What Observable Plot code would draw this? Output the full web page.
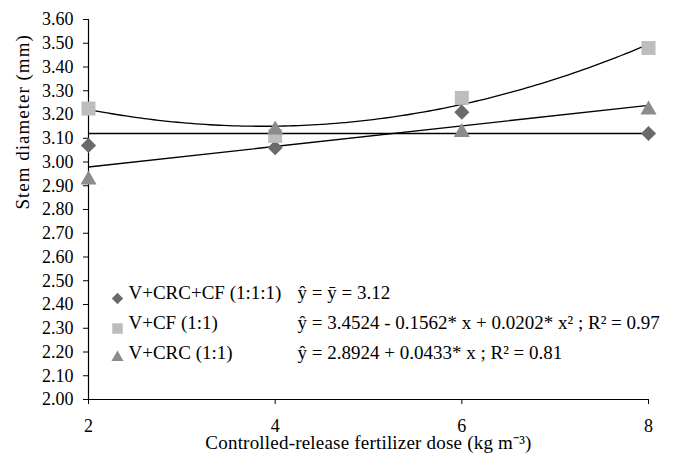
<!DOCTYPE html>
<html>
<head>
<meta charset="utf-8">
<script src="https://cdn.jsdelivr.net/npm/d3@7"></script>
<script src="https://cdn.jsdelivr.net/npm/@observablehq/plot@0.6"></script>
<style>
  html, body { margin: 0; padding: 0; background: #fff; }
  .ylab text { letter-spacing: 1px; }
  .xlab text { letter-spacing: 0.2px; }
</style>
</head>
<body>
<div id="chart"></div>
<script>
// ---- data ----
const doses = [2, 4, 6, 8];
const seriesNames = ["V+CRC+CF (1:1:1)", "V+CF (1:1)", "V+CRC (1:1)"];
const valuesCRCCF = [3.07, 3.06, 3.21, 3.12];
const valuesCF = [3.225, 3.11, 3.27, 3.48];
const valuesCRC = [2.925, 3.135, 3.125, 3.22];
const equations = [
  "ŷ = ȳ = 3.12",
  "ŷ = 3.4524 - 0.1562* x + 0.0202* x² ; R² = 0.97",
  "ŷ = 2.8924 + 0.0433* x ; R² = 0.81"
];
// trend line coefficients as printed in the legend
const meanCRCCF = 3.12;
const coefCF = [3.4524, -0.1562, 0.0202];
const coefCRC = [2.8924, 0.0433];
const yTicks = [2.0, 2.1, 2.2, 2.3, 2.4, 2.5, 2.6, 2.7, 2.8, 2.9, 3.0, 3.1, 3.2, 3.3, 3.4, 3.5, 3.6];
const xTicks = [2, 4, 6, 8];
const yLabel = "Stem diameter (mm)";
const xLabel = "Controlled-release fertilizer dose (kg m⁻³)";

// ---- styles ----
const symbols = ["diamond2", "square", "triangle"];
const colors = ["#6a6a6a", "#bdbdbd", "#8c8c8c"];
const radii = [6.8, 7.9, 6.0];

const seriesVals = [valuesCRCCF, valuesCF, valuesCRC];
const points = seriesVals.map((vals, s) => doses.map((d, i) => ({x: d, y: vals[i], s})));

const xs = d3.range(2, 8.0001, 0.05);
const curveCF = xs.map(x => ({x, y: coefCF[0] + coefCF[1] * x + coefCF[2] * x * x}));
const lineCRC = [2, 8].map(x => ({x, y: coefCRC[0] + coefCRC[1] * x}));
const lineMean = [2, 8].map(x => ({x, y: meanCRCCF}));

const ff = "'Liberation Serif', 'Times New Roman', serif";
const tickFs = 18;
const fs = 19;
const legendDy = [-101, -71, -41];

const marks = [
  Plot.axisY({ticks: yTicks, tickFormat: d3.format(".2f"), tickSize: 5, tickPadding: 10, fontSize: tickFs, label: null, stroke: "#000"}),
  Plot.axisX({ticks: xTicks, tickFormat: d => String(d), tickSize: 5, tickPadding: 15, fontSize: tickFs, label: null, stroke: "#000"}),
  Plot.ruleX([2], {stroke: "#000", strokeWidth: 1.2}),
  Plot.ruleY([2], {stroke: "#000", strokeWidth: 1.2}),
  Plot.line(lineMean, {x: "x", y: "y", stroke: "#000", strokeWidth: 1.3}),
  Plot.line(lineCRC, {x: "x", y: "y", stroke: "#000", strokeWidth: 1.3}),
  Plot.line(curveCF, {x: "x", y: "y", stroke: "#000", strokeWidth: 1.3, curve: "linear"}),
];
points.forEach((pts, s) => {
  marks.push(Plot.dot(pts, {x: "x", y: "y", symbol: () => symbols[s], fill: colors[s], stroke: "none", r: radii[s]}));
});
// legend inside the frame
seriesNames.forEach((name, i) => {
  marks.push(Plot.dot([name], {frameAnchor: "bottom-left", dx: 29, dy: legendDy[i] + (i === 2 ? -1 : 0), symbol: () => symbols[i], fill: colors[i], stroke: "none", r: radii[i] * 0.75}));
  marks.push(Plot.text([name], {text: d => d, frameAnchor: "bottom-left", dx: 40, dy: legendDy[i], textAnchor: "start", fontSize: fs, fill: "#000"}));
  marks.push(Plot.text([equations[i]], {text: d => d, frameAnchor: "bottom-left", dx: 209, dy: legendDy[i], textAnchor: "start", fontSize: fs, fill: "#000"}));
});
marks.push(Plot.text([yLabel], {text: d => d, frameAnchor: "left", dx: -66, rotate: -90, fontSize: fs, fill: "#000", className: "ylab"}));
marks.push(Plot.text([xLabel], {text: d => d, frameAnchor: "bottom", dy: 49, fontSize: fs, fill: "#000", className: "xlab"}));

const chart = Plot.plot({
  width: 681,
  height: 460,
  marginLeft: 88,
  marginRight: 33,
  marginTop: 19,
  marginBottom: 61,
  style: {fontFamily: ff, background: "#fff", color: "#000"},
  x: {domain: [2, 8]},
  y: {domain: [2, 3.6]},
  symbol: {type: "identity"},
  marks
});
document.getElementById("chart").appendChild(chart);
</script>
</body>
</html>
